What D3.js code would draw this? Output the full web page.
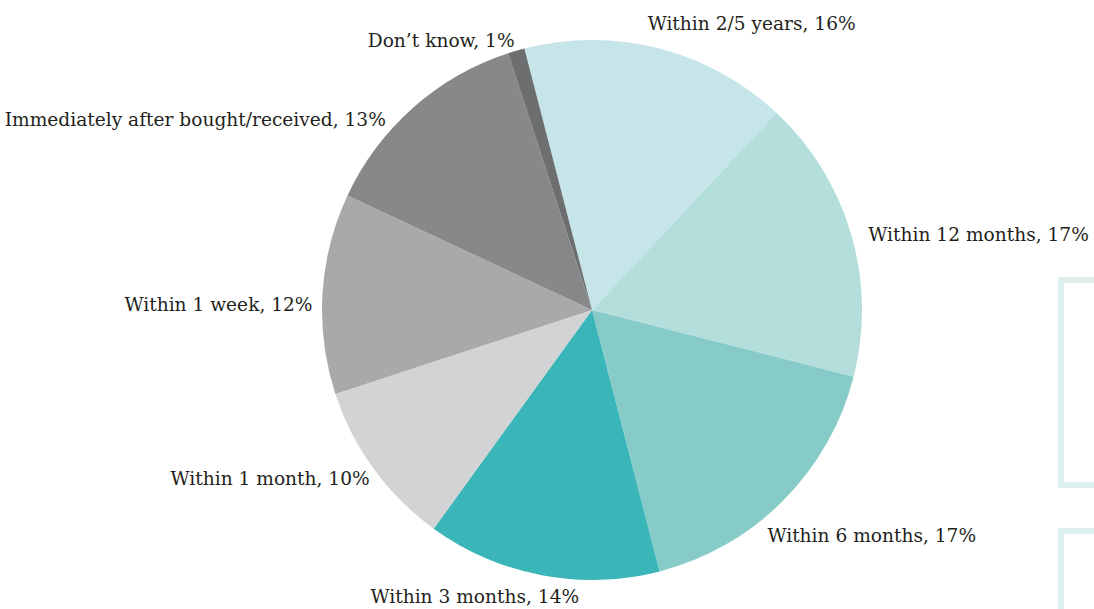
<!DOCTYPE html>
<html>
<head>
<meta charset="utf-8">
<script src="https://cdn.jsdelivr.net/npm/d3@7"></script>
<style>
  body { margin: 0; background: #fff; }
  svg text { font-family: "DejaVu Serif", serif; font-size: 18.6px; fill: #231f20; }
</style>
</head>
<body>
<div id="chart"></div>
<script>
var categories = ["Within 2/5 years", "Within 12 months", "Within 6 months", "Within 3 months",
  "Within 1 month", "Within 1 week", "Immediately after bought/received", "Don\u2019t know"];
var values = [16, 17, 17, 14, 10, 12, 13, 1];
var colors = ["#c6e5e8", "#b4dedc", "#87cbc9", "#3ab5b8", "#d1d3d4", "#a7a9ab", "#878889", "#6d6e70"];

// small nudges so labels sit where the original put them
var labelNudge = [[-16, -6], [-2, 6], [-30, 21], [41, 2], [12, -2], [10, 12], [-14, 27], [4, 9]];

var width = 1094, height = 609;
var cx = 592, cy = 310, radius = 270;
var startAngle = -14.5 * Math.PI / 180;

var svg = d3.select("#chart").append("svg")
    .attr("width", width)
    .attr("height", height);

// bracket decorations at right edge
var deco = svg.append("g").attr("fill", "none").attr("stroke", "#dceeee").attr("stroke-width", 6);
deco.append("path").attr("d", "M1100,280 H1061 V485 H1100");
deco.append("path").attr("d", "M1100,531 H1061 V615");

var g = svg.append("g").attr("transform", "translate(" + cx + "," + cy + ")");

var pie = d3.pie().sort(null)
    .startAngle(startAngle)
    .endAngle(startAngle + 2 * Math.PI)
    .value(function(d) { return d; });

var arcs = pie(values);
var arc = d3.arc().innerRadius(0).outerRadius(radius);
var labelArc = d3.arc().innerRadius(290).outerRadius(290);

g.selectAll("path.slice")
  .data(arcs)
  .enter().append("path")
    .attr("class", "slice")
    .attr("fill", function(d, i) { return colors[i]; })
    .attr("d", arc);

g.selectAll("text.lbl")
  .data(arcs)
  .enter().append("text")
    .attr("class", "lbl")
    .attr("text-anchor", function(d) {
      var mid = (d.startAngle + d.endAngle) / 2;
      var m = ((mid % (2 * Math.PI)) + 2 * Math.PI) % (2 * Math.PI);
      return m < Math.PI ? "start" : "end";
    })
    .attr("x", function(d, i) { return labelArc.centroid(d)[0] + labelNudge[i][0]; })
    .attr("y", function(d, i) { return labelArc.centroid(d)[1] + labelNudge[i][1]; })
    .attr("dy", "0.35em")
    .text(function(d, i) { return categories[i] + ", " + values[i] + "%"; });
</script>
</body>
</html>
